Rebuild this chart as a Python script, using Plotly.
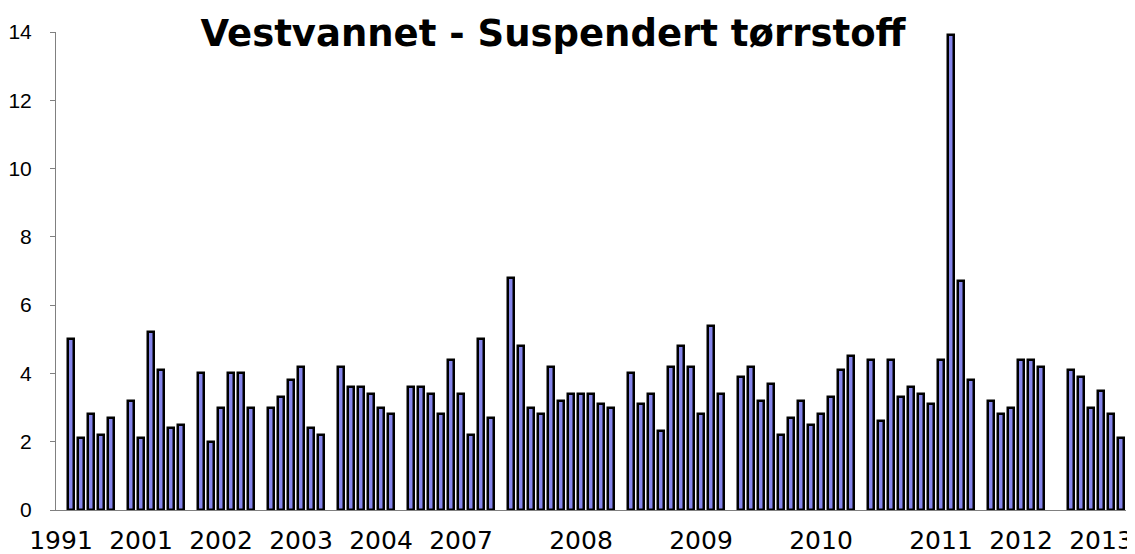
import plotly.graph_objects as go

# Values per category slot (None = empty category / gap between sampling years)
values = [None, 5.0, 2.1, 2.8, 2.2, 2.7,
          None, 3.2, 2.1, 5.2, 4.1, 2.4, 2.5,
          None, 4.0, 2.0, 3.0, 4.0, 4.0, 3.0,
          None, 3.0, 3.3, 3.8, 4.2, 2.4, 2.2,
          None, 4.2, 3.6, 3.6, 3.4, 3.0, 2.8,
          None, 3.6, 3.6, 3.4, 2.8, 4.4, 3.4, 2.2, 5.0, 2.7,
          None, 6.8, 4.8, 3.0, 2.8, 4.2, 3.2, 3.4, 3.4, 3.4, 3.1, 3.0,
          None, 4.0, 3.1, 3.4, 2.3, 4.2, 4.8, 4.2, 2.8, 5.4, 3.4,
          None, 3.9, 4.2, 3.2, 3.7, 2.2, 2.7, 3.2, 2.5, 2.8, 3.3, 4.1, 4.5,
          None, 4.4, 2.6, 4.4, 3.3, 3.6, 3.4, 3.1, 4.4, 13.9, 6.7, 3.8,
          None, 3.2, 2.8, 3.0, 4.4, 4.4, 4.2,
          None, None, 4.1, 3.9, 3.0, 3.5, 2.8, 2.1]
categories = list(range(len(values)))

# Category axis labels (category index -> year label)
tick_slots = [0, 8, 16, 24, 32, 40, 52, 64, 76, 88, 96, 104]
tick_labels = ["1991", "2001", "2002", "2003", "2004", "2007",
               "2008", "2009", "2010", "2011", "2012", "2013"]

y_ticks = [0, 2, 4, 6, 8, 10, 12, 14]

fig = go.Figure()
fig.add_trace(go.Bar(
    x=categories, y=values,
    width=0.55,
    marker=dict(color="#8585EA", line=dict(color="black", width=2.5)),
    hoverinfo="x+y",
))

fig.update_layout(
    width=1135, height=554,
    margin=dict(l=48, r=17, t=24, b=52),
    paper_bgcolor="white", plot_bgcolor="white",
    showlegend=False,
    bargap=0,
    title=dict(
        text="<b>Vestvannet - Suspendert tørrstoff</b>",
        font=dict(family="DejaVu Sans", size=37, color="black"),
        x=545 / 1135, xref="container", xanchor="center",
        y=1 - 25 / 554, yref="container", yanchor="middle",
    ),
)
fig.update_xaxes(
    range=[-0.5, len(values) - 0.5],
    automargin=False,
    tickmode="array", tickvals=tick_slots, ticktext=tick_labels,
    ticks="", showgrid=False, zeroline=False,
    showline=True, linecolor="#808080", linewidth=1,
    tickfont=dict(family="DejaVu Sans", size=25, color="black"),
    ticklabelstandoff=8,
)
fig.update_yaxes(
    range=[0, 14],
    automargin=False,
    tickmode="array", tickvals=y_ticks,
    ticks="outside", ticklen=5, tickcolor="#808080",
    showgrid=False, zeroline=False,
    showline=True, linecolor="#808080", linewidth=1,
    tickfont=dict(family="Liberation Sans", size=21, color="black"),
    ticklabelstandoff=14,
)

fig.write_html("out.html")
